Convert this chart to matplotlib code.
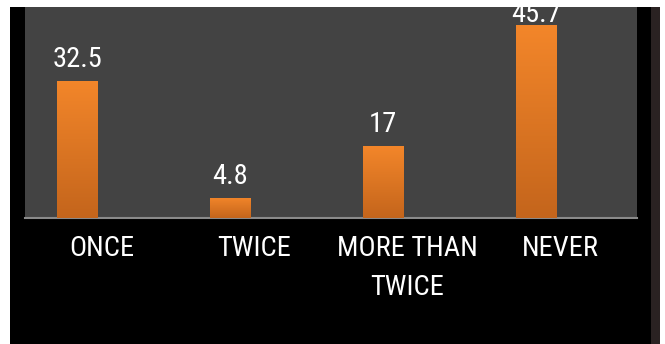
import matplotlib
matplotlib.use("Agg")
import matplotlib.pyplot as plt
import numpy as np
from matplotlib.patches import Rectangle
from matplotlib.colors import LinearSegmentedColormap

categories = ["ONCE", "TWICE", "MORE THAN\nTWICE", "NEVER"]
values = [32.5, 4.8, 17, 45.7]
value_labels = ["32.5", "4.8", "17", "45.7"]

plt.rcParams['font.family'] = ['Roboto Condensed', 'Roboto', 'DejaVu Sans']

W, H = 665, 344
fig = plt.figure(figsize=(W / 100, H / 100), dpi=100)
fig.patch.set_facecolor("white")

# black frame
fig.add_artist(Rectangle((10 / W, 0), (651 - 10) / W, 1 - 7 / H,
                         transform=fig.transFigure, facecolor="black",
                         edgecolor="none", zorder=0))
# dark strip at right edge
fig.add_artist(Rectangle((651 / W, 0), (660 - 651) / W, 1 - 7 / H,
                         transform=fig.transFigure, facecolor="#2a2222",
                         edgecolor="none", zorder=0))

ax = fig.add_axes([25 / W, 1 - 218 / H, (637 - 25) / W, (218 - 7) / H])
ax.set_facecolor("#434343")

x = np.arange(len(categories))
offset = -0.16
width = 0.262
bars = ax.bar(x + offset, values, width=width, color="#e07a22", zorder=2)

cmap = LinearSegmentedColormap.from_list("og", ["#c4651c", "#f3862a"])
grad = np.linspace(0, 1, 256).reshape(-1, 1)
for b in bars:
    x0, y0 = b.get_x(), b.get_y()
    w, h = b.get_width(), b.get_height()
    im = ax.imshow(grad, extent=[x0, x0 + w, y0, y0 + h], origin="lower",
                   cmap=cmap, aspect="auto", zorder=3)
    im.set_clip_path(b)

ymax = 50
for xi, v, lab in zip(x, values, value_labels):
    # labels that would run past the top are pulled down close to the bar
    dy = 10 if v < 0.85 * ymax else 2
    ax.annotate(lab, (xi + offset, v), xytext=(0, dy), textcoords="offset points",
                ha="center", va="baseline", color="white", fontsize=20.5,
                clip_on=True, annotation_clip=False, zorder=4)

ax.set_xlim(-0.5, 3.5)
ax.set_ylim(0, ymax)
ax.set_yticks([])
ax.set_xticks(x)
ax.set_xticklabels(categories, color="white", fontsize=20.5, linespacing=1.6)
ax.tick_params(axis="x", length=0, pad=12)
for s in ["top", "right", "left"]:
    ax.spines[s].set_visible(False)
ax.spines["bottom"].set_color("#8a8a8a")
ax.spines["bottom"].set_linewidth(1.5)

fig.savefig("out.png", dpi=100, facecolor=fig.get_facecolor())
